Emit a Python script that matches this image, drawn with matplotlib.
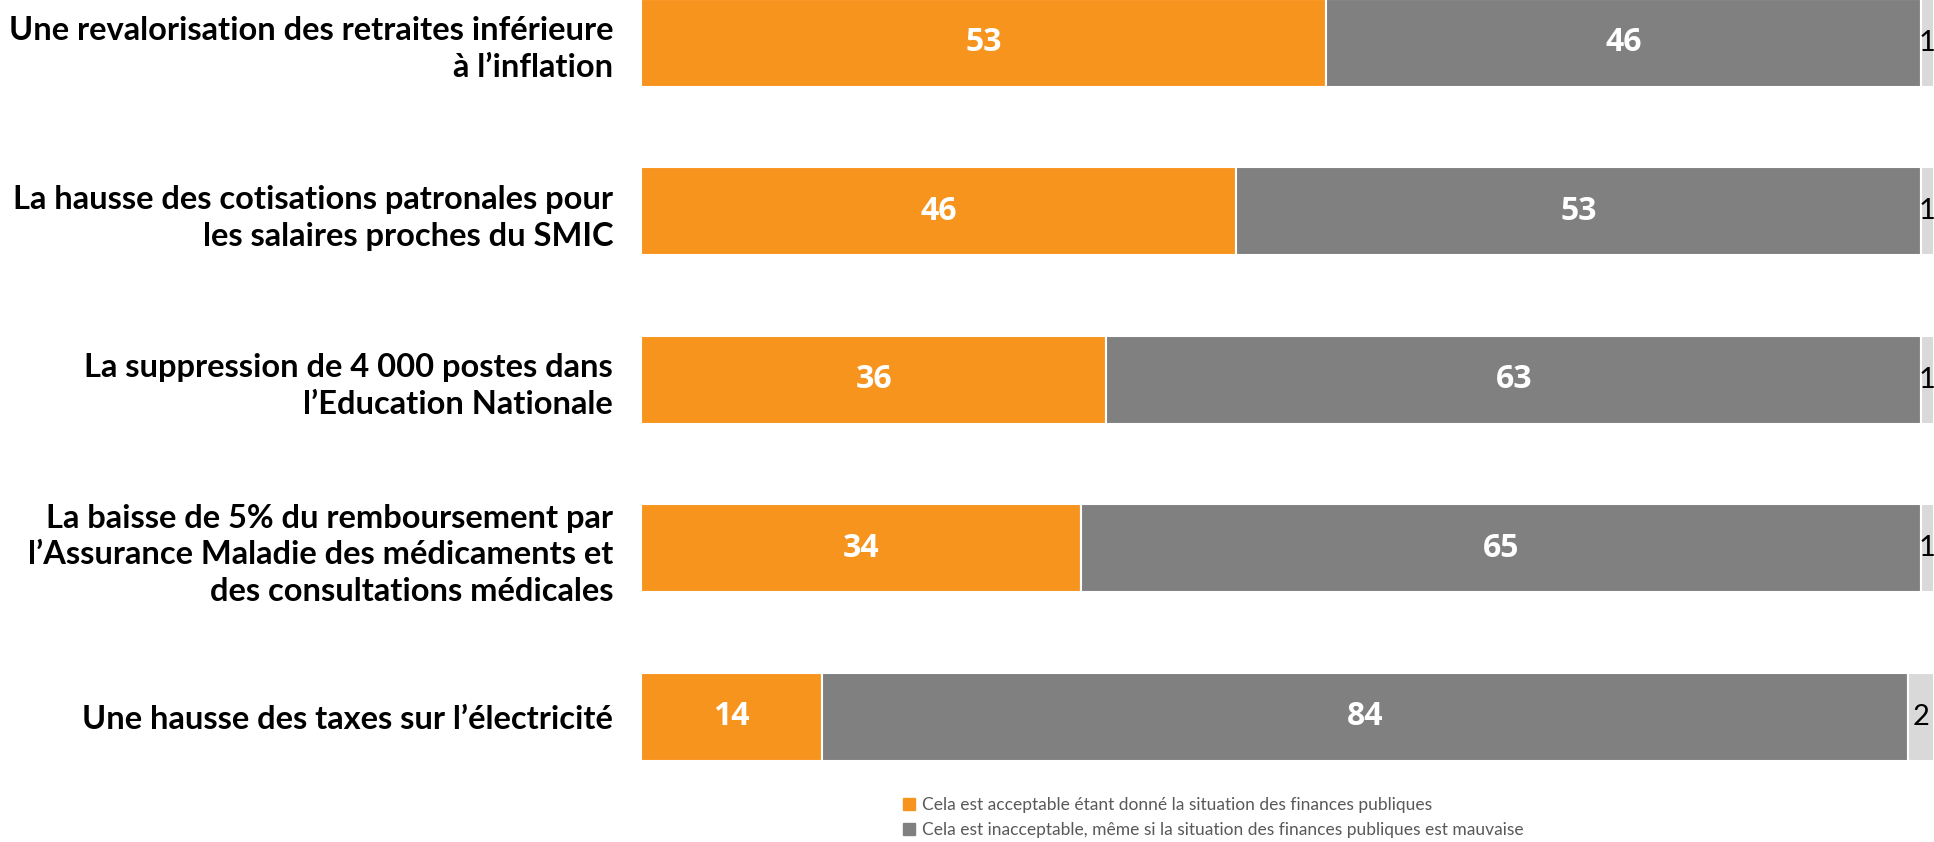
import matplotlib
matplotlib.use("Agg")
import matplotlib.pyplot as plt
from matplotlib.lines import Line2D

categories = [
    "Une revalorisation des retraites inférieure\nà l’inflation",
    "La hausse des cotisations patronales pour\nles salaires proches du SMIC",
    "La suppression de 4 000 postes dans\nl’Education Nationale",
    "La baisse de 5% du remboursement par\nl’Assurance Maladie des médicaments et\ndes consultations médicales",
    "Une hausse des taxes sur l’électricité",
]
acceptable = [53, 46, 36, 34, 14]
inacceptable = [46, 53, 63, 65, 84]
nsp = [1, 1, 1, 1, 2]
legend_labels = [
    "Cela est acceptable étant donné la situation des finances publiques",
    "Cela est inacceptable, même si la situation des finances publiques est mauvaise",
]

c_orange = "#F7941E"
c_gray = "#808080"
c_light = "#D9D9D9"

fig = plt.figure(figsize=(19.34, 8.42), dpi=100)
ax = fig.add_axes([641 / 1934, 0, 1 - 641 / 1934, 1])

y = list(range(len(categories)))
h = 0.522
ax.barh(y, acceptable, height=h, color=c_orange, edgecolor="white", linewidth=1.5)
ax.barh(y, inacceptable, left=acceptable, height=h, color=c_gray, edgecolor="white", linewidth=1.5)
left3 = [a + b for a, b in zip(acceptable, inacceptable)]
ax.barh(y, nsp, left=left3, height=h, color=c_light, edgecolor="white", linewidth=1.5)

for i in y:
    ax.text(acceptable[i] / 2, i, str(acceptable[i]), ha="center", va="center",
            color="white", fontsize=23, fontweight="bold", family="Open Sans")
    ax.text(acceptable[i] + inacceptable[i] / 2, i, str(inacceptable[i]), ha="center", va="center",
            color="white", fontsize=23, fontweight="bold", family="Open Sans")
    ax.text(left3[i] + nsp[i] / 2, i, str(nsp[i]), ha="center", va="center",
            color="black", fontsize=21, family="Lato", clip_on=False)

ax.set_xlim(0, 100)
ax.set_ylim(4.742, -0.255)
ax.set_yticks(y)
ax.set_yticklabels(categories, fontsize=23.5, fontweight="bold", family="Lato", linespacing=1.32)
ax.tick_params(axis="y", length=0, pad=20)
ax.set_xticks([])
for s in ax.spines.values():
    s.set_visible(False)

handles = [Line2D([], [], marker="s", linestyle="none", color=c, markersize=8) for c in (c_orange, c_gray)]
leg = fig.legend(handles, legend_labels, loc="upper left", bbox_to_anchor=(902 / 1934, 1 - 797 / 842),
                 frameon=False, labelspacing=0.5, handlelength=0.8,
                 handletextpad=0.35, borderpad=0, borderaxespad=0, prop={"family": "Lato", "size": 12.5})
for t in leg.get_texts():
    t.set_color("#595959")

fig.savefig("out.png", dpi=100)
